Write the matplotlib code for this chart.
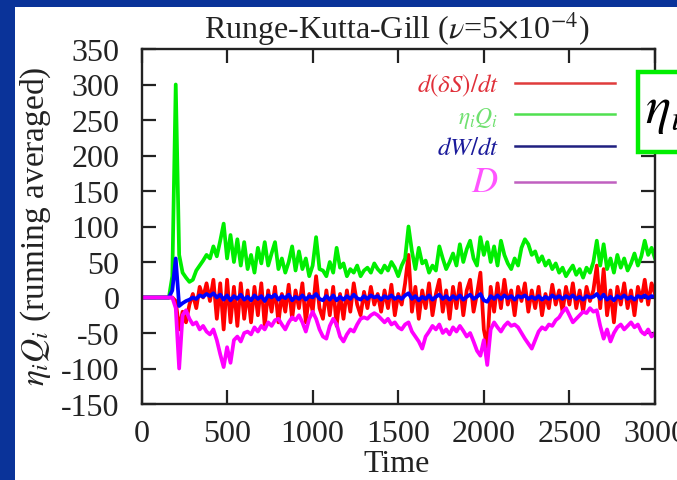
import numpy as np
import matplotlib
matplotlib.use("Agg")
import matplotlib.pyplot as plt
from matplotlib.patches import Rectangle

plt.rcParams['font.family'] = ['Liberation Serif', 'DejaVu Serif']
plt.rcParams['mathtext.fontset'] = 'stix'
plt.rcParams['axes.unicode_minus'] = False

# time axis, one sample every 20 time units
time = np.arange(0, 3001, 20)

# d(dS)/dt
dS_dt = [
    0, 0, 0, 0, 0, 0, 0, 0, 0, 0,
    -5, -45, -20, -35, -10, 5, -15, 15, 0, 20,
    -5, 25, -30, 20, -45, 25, -35, 15, -40, 20,
    -30, 10, -35, 15, -25, 20, -40, 10, -20, 15,
    -35, 5, -20, 18, -30, 10, -15, 20, -35, 5,
    -20, 30, -15, -30, 10, -25, 15, -40, 5, -30,
    10, -20, 20, -10, -25, 8, -15, 15, -10, 5,
    -20, 10, -15, 18, -25, 5, -10, 20, 60, -20,
    15, -30, 10, -15, 20, -25, 5, 25, -20, 10,
    -30, 15, -15, 20, -25, 10, 25, -20, 5, 35,
    -45, -70, 15, -20, 20, -15, 25, -10, 10, -25,
    15, -5, 20, -20, 10, -15, 15, -25, 5, -15,
    18, -10, 10, -20, 15, -10, 20, -15, 10, -20,
    15, -5, 10, 45, -15, 40, -25, 10, -35, 15,
    -10, 20, -15, 10, -25, 15, -5, 25, -10, 20,
    5,
]

# eta_i Q_i
etaQ = [
    0, 0, 0, 0, 0, 0, 0, 0, 0, 30,
    300, 60, 35, 28, 22, 25, 38, 45, 52, 60,
    55, 72, 58, 80, 104, 55, 88, 50, 82, 45,
    78, 40, 60, 35, 70, 48, 78, 45, 62, 78,
    40, 55, 35, 50, 72, 38, 65, 40, 55, 30,
    45, 85, 40, 38, 30, 50, 35, 70, 42, 48,
    30, 40, 35, 45, 30, 38, 42, 35, 48, 40,
    35, 45, 38, 50, 42, 30, 45, 55, 100, 65,
    40, 70, 48, 52, 35, 45, 38, 72, 55, 40,
    50, 62, 45, 75, 50, 68, 80, 55, 45, 85,
    60, 78, 50, 72, 45, 80, 60, 48, 40, 55,
    45, 70, 82, 75, 60, 65, 50, 58, 45, 52,
    40, 48, 35, 42, 30, 38, 45, 32, 40, 28,
    42, 35, 50, 80, 45, 75, 40, 55, 35, 60,
    42, 55, 38, 48, 62, 45, 58, 80, 60, 70,
    55,
]

# dW/dt
dW_dt = [
    0, 0, 0, 0, 0, 0, 0, 0, 0, 10,
    55, -12, -8, -5, -3, 0, -2, 3, 1, 5,
    2, 6, 0, 4, -3, 3, -4, 2, -2, 4,
    -3, 1, -4, 3, -2, 2, -5, 3, 0, 4,
    -3, 2, -1, 4, -4, 1, -2, 3, -3, 2,
    0, 5, -2, -4, 2, -3, 3, -4, 1, -3,
    2, -2, 4, -1, -3, 2, -2, 3, 0, 2,
    -3, 2, -1, 3, -2, 1, -2, 3, 6, -2,
    2, -4, 1, -2, 3, -3, 1, 4, -2, 2,
    -3, 2, -2, 3, -3, 1, 4, -2, 1, 5,
    -4, -6, 2, -2, 3, -2, 3, -1, 2, -3,
    2, 0, 3, -2, 1, -2, 2, -3, 1, -2,
    3, -1, 2, -2, 2, -1, 3, -2, 1, -3,
    2, 0, 1, 5, -2, 4, -3, 1, -4, 2,
    -1, 3, -2, 1, -3, 2, 0, 3, -1, 2,
    1,
]

# D
D = [
    0, 0, 0, 0, 0, 0, 0, 0, 0, 0,
    -15, -100, -25, -18, -30, -38, -35, -45, -40, -48,
    -52, -45, -60, -80, -98, -70, -92, -60, -55, -62,
    -50, -48, -52, -42, -48, -40, -45, -35, -40, -32,
    -30, -38, -45, -35, -28, -32, -25, -35, -48, -30,
    -20, -30, -45, -55, -58, -40, -30, -38, -55, -62,
    -52, -45, -48, -38, -30, -28, -30, -25, -22, -25,
    -30, -35, -30, -38, -35, -42, -45, -38, -35, -48,
    -55, -62, -72, -55, -48, -40, -45, -38, -50, -45,
    -52, -42, -48, -40, -47, -55, -50, -62, -75, -82,
    -60, -95, -45, -35, -42, -48, -40, -35, -40, -38,
    -42, -50, -58, -65, -72, -60, -48, -42, -45, -38,
    -40, -32, -28, -20, -15, -25, -35, -30, -25, -20,
    -22, -15, -20, -18, -40, -58, -45, -62, -50, -42,
    -38, -45, -40, -35, -42, -38, -48, -52, -45, -55,
    -50,
]

labels = [r'$d(\delta S)/dt$', r'$\eta_i Q_i$', r'$dW/dt$', r'$D$']
line_colors = ['#ff0000', '#00ee00', '#0000ff', '#ff00ff']
label_colors = ['#e0303a', '#70e070', '#1a1a9a', '#ff55ff']
key_colors = ['#e03c3c', '#50e050', '#202080', '#c060c0']

fig = plt.figure(figsize=(6.77, 4.81), dpi=100, facecolor='#0a3399')
fig.add_artist(Rectangle((15 / 677, 0), 1, 1 - 8 / 481, transform=fig.transFigure,
                         facecolor='white', edgecolor='none', zorder=0))

ax = fig.add_axes([141.5 / 677, 1 - 405 / 481, (655 - 141.5) / 677, 355 / 481])
ax.set_facecolor('white')

series = [dS_dt, etaQ, dW_dt, D]
for vals, c, lab in zip(series, line_colors, labels):
    ax.plot(time, vals, color=c, lw=2.7, label=lab)

ax.set_xlim(0, 3000)
ax.set_ylim(-150, 350)
ax.set_xticks(np.arange(0, 3001, 500))
ax.set_yticks(np.arange(-150, 351, 50))
ax.tick_params(direction='in', length=10, width=1.6, labelsize=23,
               top=True, right=True, colors='#222222')
ax.tick_params(axis='x', pad=11)
ax.tick_params(axis='y', pad=16)
for sp in ax.spines.values():
    sp.set_linewidth(1.7)
    sp.set_color('#222222')

# key with coloured, right aligned texts
handles = [plt.Line2D([], [], color=c, lw=1.8) for c in key_colors]
leg = ax.legend(handles, labels, loc='upper right', frameon=False,
                markerfirst=False, fontsize=18, handlelength=4.0,
                handletextpad=0.65, labelspacing=0.27, borderpad=0,
                borderaxespad=0, bbox_to_anchor=(0.922, 0.935))
for t, c in zip(leg.get_texts(), label_colors):
    t.set_color(c)
leg.get_texts()[1].set_fontsize(17)
leg.get_texts()[3].set_fontsize(26)

fig.text(397 / 677, 1 - 29 / 481, r'Runge-Kutta-Gill ($\nu$=5$\times$10$^{-4}$)',
         ha='center', va='center', fontsize=23, color='#222222')
fig.text(397 / 677, 1 - 465 / 481, 'Time', ha='center', va='center',
         fontsize=23, color='#222222')
fig.text(36 / 677, 1 - 226 / 481, r'$\eta_i Q_i$ (running averaged)', rotation=90,
         ha='center', va='center', fontsize=24, color='#222222')

# green box on the right edge of the slide
fig.add_artist(Rectangle((638 / 677, 1 - 153 / 481), 60 / 677, 80 / 481,
                         transform=fig.transFigure, facecolor='white',
                         edgecolor='#00ee00', lw=3.2, zorder=5, clip_on=False))
fig.text(645 / 677, 1 - 112 / 481, r'$\eta_i$', ha='left', va='center',
         fontsize=38, color='black', zorder=6)

fig.savefig('out.png', dpi=100, facecolor=fig.get_facecolor())
